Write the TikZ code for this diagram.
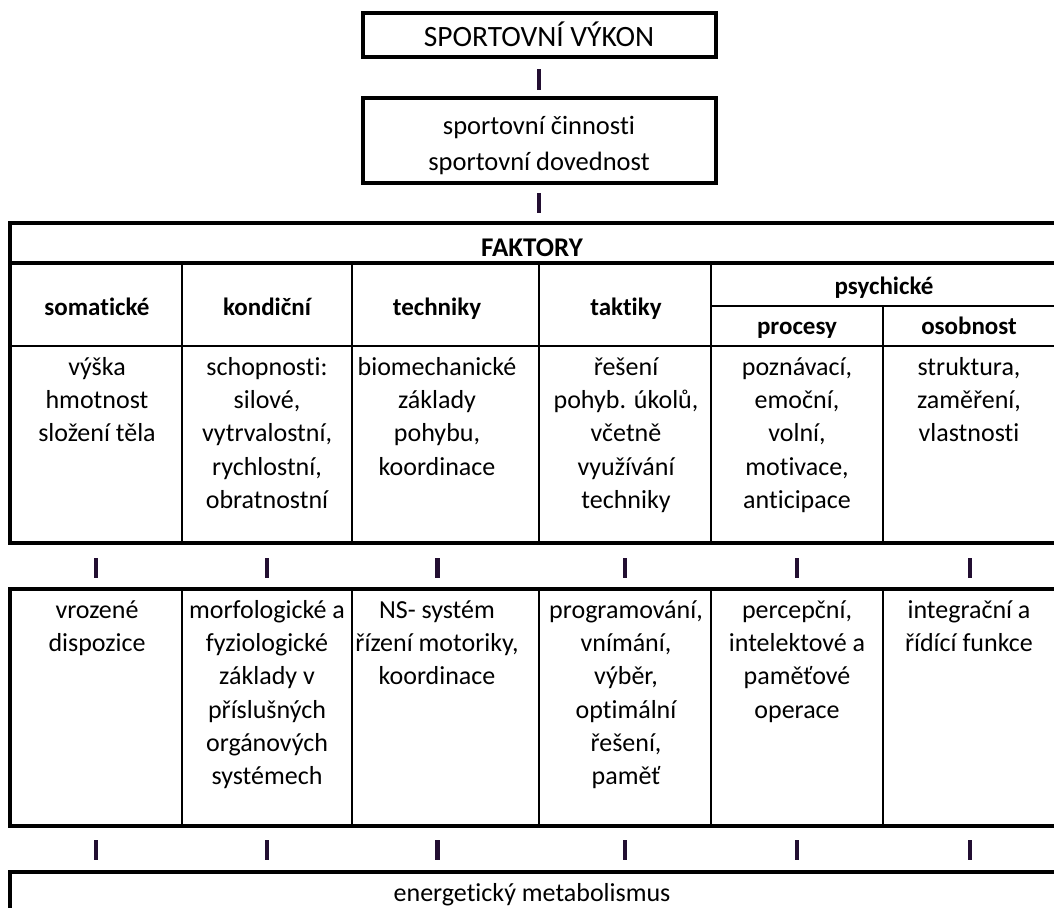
\documentclass[tikz,border=0pt]{standalone}
\usepackage{fontspec}
\setmainfont{Carlito}[Ligatures=NoCommon]
\definecolor{barc}{RGB}{35,15,50}
\newcommand\mycell[5]{\node[cellbox, minimum width={(#4-#2)*1pt}, minimum height={(#5-#3)*1pt}] (#1) at (#2,#3) {};}
\newcommand\mytxt[4]{\node[txt, anchor=north] (#1) at (#2,#3-25) {\rule{0pt}{25pt}#4};}
\begin{document}
\begin{tikzpicture}[x=1pt,y=-1pt,
  thickbox/.style={draw, line width=4pt, inner sep=0pt, outer sep=0pt},
  cellbox/.style={draw, line width=2pt, anchor=north west, inner sep=0pt, outer sep=0pt},
  txt/.style={font=\fontsize{26}{33.3}\selectfont, align=center, inner sep=0pt},
  hdr/.style={font=\fontsize{25}{33}\selectfont\bfseries, inner sep=0pt, anchor=base},
  bar/.style={draw=barc, line width=4.5pt},
  outer/.style={draw, line width=4pt}]
\useasboundingbox (0,0) rectangle (1054,907);
\clip (0,0) rectangle (1054,907);

% top boxes
\node[thickbox, minimum width=353pt, minimum height=44pt, font=\fontsize{29.5}{33}\selectfont,
      text height=23pt, text depth=0pt] (vykon) at (539,35) {SPORTOVNÍ VÝKON};
\node[thickbox, minimum width=353pt, minimum height=85pt] (cinnost) at (539,140.5) {};
\node[txt, anchor=north, font=\fontsize{26.5}{36}\selectfont] (cinnostT) at (539,134.5-25)
  {\rule{0pt}{25pt}sportovní činnosti\\sportovní dovednost};

% big table
\mycell{faktory}{10}{223}{1057}{263}
\mycell{somH}{10}{263}{182}{346}
\mycell{konH}{182}{263}{352}{346}
\mycell{tecH}{352}{263}{539}{346}
\mycell{takH}{539}{263}{711}{346}
\mycell{psyH}{711}{263}{1057}{306}
\mycell{proH}{711}{306}{883}{346}
\mycell{osoH}{883}{306}{1057}{346}
\mycell{somB}{10}{346}{182}{543}
\mycell{konB}{182}{346}{352}{543}
\mycell{tecB}{352}{346}{539}{543}
\mycell{takB}{539}{346}{711}{543}
\mycell{proB}{711}{346}{883}{543}
\mycell{osoB}{883}{346}{1057}{543}
\draw[outer] (faktory.north west) rectangle (osoB.south east);
\draw[outer] (faktory.south west) -- (faktory.south east);

\node[hdr, font=\fontsize{27}{33}\selectfont\bfseries] (faktoryT) at (532,256) {FAKTORY};
\node[hdr] (somT) at (97,315) {somatické};
\node[hdr] (konT) at (267,315) {kondiční};
\node[hdr] (tecT) at (437,315) {techniky};
\node[hdr] (takT) at (626,315) {taktiky};
\node[hdr] (psyT) at (884,294) {psychické};
\node[hdr] (proT) at (797,334) {procesy};
\node[hdr] (osoT) at (969,334) {osobnost};

\mytxt{somBT}{97}{375}{výška\\hmotnost\\složení těla}
\mytxt{konBT}{267}{375}{schopnosti:\\silové,\\vytrvalostní,\\rychlostní,\\obratnostní}
\mytxt{tecBT}{437}{375}{biomechanické\\základy\\pohybu,\\koordinace}
\mytxt{takBT}{626}{375}{řešení\\pohyb. úkolů,\\včetně\\využívání\\techniky}
\mytxt{proBT}{797}{375}{poznávací,\\emoční,\\volní,\\motivace,\\anticipace}
\mytxt{osoBT}{969}{375}{struktura,\\zaměření,\\vlastnosti}

% lower table
\mycell{somL}{10}{589}{182}{826}
\mycell{konL}{182}{589}{352}{826}
\mycell{tecL}{352}{589}{539}{826}
\mycell{takL}{539}{589}{711}{826}
\mycell{proL}{711}{589}{883}{826}
\mycell{osoL}{883}{589}{1057}{826}
\draw[outer] (somL.north west) rectangle (osoL.south east);

\mytxt{somLT}{97}{618}{vrozené\\dispozice}
\mytxt{konLT}{267}{618}{morfologické a\\fyziologické\\základy v\\příslušných\\orgánových\\systémech}
\mytxt{tecLT}{437}{618}{NS- systém\\řízení motoriky,\\koordinace}
\mytxt{takLT}{626}{618}{programování,\\vnímání,\\výběr,\\optimální\\řešení,\\paměť}
\mytxt{proLT}{797}{618}{percepční,\\intelektové a\\paměťové\\operace}
\mytxt{osoLT}{969}{618}{integrační a\\řídící funkce}

% bottom box
\node[thickbox, anchor=north west, minimum width=1047pt, minimum height=60pt] (energy) at (10,872) {};
\node[hdr, font=\fontsize{26}{33}\selectfont] (energyT) at (532,901.5) {energetický metabolismus};

% connectors
\draw[bar, shorten <=12pt, shorten >=8pt] (vykon.south) -- (cinnost.north);
\draw[bar, shorten <=10pt, shorten >=10pt] (cinnost.south) -- (cinnost.south |- faktory.north);
\foreach \a/\b/\s in {somB/somL/0, konB/konL/0, tecB/tecL/-8, takB/takL/0, proB/proL/0, osoB/osoL/0}{
  \draw[bar, shorten <=15pt, shorten >=11pt] ([xshift=\s pt]\a.south) -- ([xshift=\s pt]\b.north);
}
\foreach \a/\s in {somL/0, konL/0, tecL/-8, takL/0, proL/0, osoL/0}{
  \draw[bar, shorten <=14pt, shorten >=12pt] ([xshift=\s pt]\a.south) -- ([xshift=\s pt]\a.south |- energy.north);
}
\end{tikzpicture}
\end{document}
